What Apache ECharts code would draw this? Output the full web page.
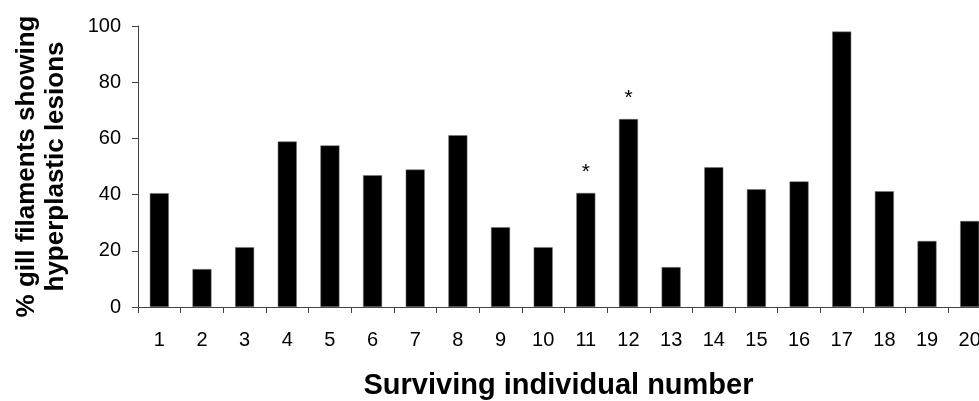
<!DOCTYPE html>
<html>
<head>
<meta charset="utf-8">
<script src="https://cdn.jsdelivr.net/npm/echarts@6/dist/echarts.min.js"></script>
<style>
  html, body { margin: 0; padding: 0; background: #fff; }
  #main { width: 979px; height: 401px; }
</style>
</head>
<body>
<div id="main"></div>
<script>
var individuals = ['1', '2', '3', '4', '5', '6', '7', '8', '9', '10',
                   '11', '12', '13', '14', '15', '16', '17', '18', '19', '20'];
var lesionPct = [40.5, 13.5, 21.3, 58.9, 57.5, 46.9, 48.9, 61.1, 28.4, 21.3,
                 40.6, 66.9, 14.2, 49.7, 41.9, 44.7, 98.0, 41.2, 23.5, 30.6];
var marks = ['', '', '', '', '', '', '', '', '', '',
             '*', '*', '', '', '', '', '', '', '', ''];

var font = 'Liberation Sans, Arial, sans-serif';
var chart = echarts.init(document.getElementById('main'));

var option = {
    animation: false,
    backgroundColor: '#fff',
    grid: {
        left: 138,
        top: 26,
        width: 853,
        height: 281,
        outerBoundsMode: 'none'
    },
    xAxis: {
        type: 'category',
        data: individuals,
        name: 'Surviving individual number',
        nameLocation: 'middle',
        nameGap: 64,
        nameTextStyle: { fontFamily: font, fontSize: 29, fontWeight: 'bold', color: '#000', padding: [0, 12, 0, 0] },
        axisLine: { lineStyle: { color: '#444', width: 1 } },
        axisTick: { show: true, length: 6, lineStyle: { color: '#444' } },
        axisLabel: { fontFamily: font, fontSize: 20, color: '#000', margin: 23, interval: 0 },
        splitLine: { show: false }
    },
    yAxis: {
        type: 'value',
        min: 0,
        max: 100,
        interval: 20,
        name: '% gill filaments showing\nhyperplastic lesions',
        nameLocation: 'middle',
        nameGap: 68,
        nameTextStyle: { fontFamily: font, fontSize: 26, fontWeight: 'bold', color: '#000', lineHeight: 29 },
        axisLine: { show: true, lineStyle: { color: '#444', width: 1 } },
        axisTick: { show: true, length: 6, lineStyle: { color: '#444' } },
        axisLabel: { fontFamily: font, fontSize: 20, color: '#000', margin: 17 },
        splitLine: { show: false }
    },
    series: [{
        type: 'bar',
        data: lesionPct,
        barWidth: 19,
        itemStyle: { color: '#000', borderColor: '#777', borderWidth: 0.5 },
        label: {
            show: true,
            position: 'top',
            distance: 10,
            fontFamily: font,
            fontSize: 21,
            color: '#000',
            formatter: function (p) { return marks[p.dataIndex]; }
        }
    }]
};

chart.setOption(option);
</script>
</body>
</html>
